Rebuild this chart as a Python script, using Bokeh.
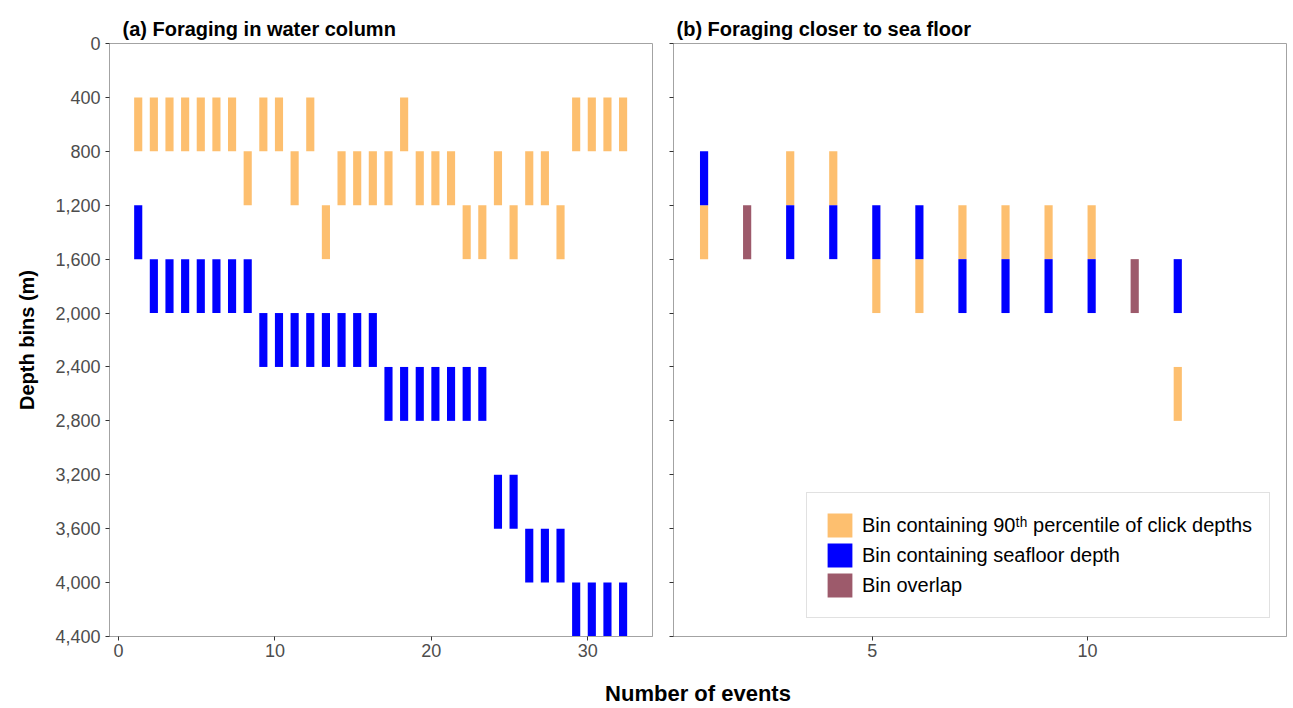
from bokeh.plotting import figure
from bokeh.layouts import column, row
from bokeh.models import (Range1d, FixedTicker, NumeralTickFormatter, Legend,
                          LegendItem, ColumnDataSource, CustomLabelingPolicy)
from bokeh.core.properties import value
from bokeh.embed import file_html
from bokeh.resources import INLINE

# ---------------- data ----------------
BIN_SIZE = 400
depth_ticks = [0, 400, 800, 1200, 1600, 2000, 2400, 2800, 3200, 3600, 4000, 4400]

# (a) Foraging in water column : start of each 400 m depth bin
events_a = list(range(1, 33))
pct90_a = [400, 400, 400, 400, 400, 400, 400, 800, 400, 400, 800, 400, 1200, 800, 800, 800,
           800, 400, 800, 800, 800, 1200, 1200, 800, 1200, 800, 800, 1200, 400, 400, 400, 400]
seafloor_a = [1200, 1600, 1600, 1600, 1600, 1600, 1600, 1600, 2000, 2000, 2000, 2000, 2000, 2000, 2000, 2000,
              2400, 2400, 2400, 2400, 2400, 2400, 2400, 3200, 3200, 3600, 3600, 3600, 4000, 4000, 4000, 4000]

# (b) Foraging closer to sea floor
events_b = list(range(1, 13))
pct90_b = [1200, 1200, 800, 800, 1600, 1600, 1200, 1200, 1200, 1200, 1600, 2400]
seafloor_b = [800, 1200, 1200, 1200, 1200, 1200, 1600, 1600, 1600, 1600, 1600, 1600]

legend_labels = ["Bin containing 90\u1d57\u02b0 percentile of click depths",
                 "Bin containing seafloor depth",
                 "Bin overlap"]

# ---------------- style ----------------
FONT = "Liberation Sans"
C_PCT = "#FDBF6F"
C_SEA = "#0000FF"
C_OVL = "#9D5A6B"
FRAME = "#A3A3A3"


def sources(events, pct, sea, width):
    out = {"pct": dict(left=[], right=[], top=[], bottom=[]),
           "sea": dict(left=[], right=[], top=[], bottom=[]),
           "ovl": dict(left=[], right=[], top=[], bottom=[])}
    for e, p, s in zip(events, pct, sea):
        items = [("ovl", p)] if p == s else [("pct", p), ("sea", s)]
        for key, start in items:
            d = out[key]
            d["left"].append(e)
            d["right"].append(e + width)
            d["top"].append(start)
            d["bottom"].append(start + BIN_SIZE)
    return {k: ColumnDataSource(v) for k, v in out.items()}


def style(p):
    p.xgrid.visible = False
    p.ygrid.visible = False
    p.background_fill_color = "white"
    p.border_fill_color = "white"
    p.outline_line_color = FRAME
    p.outline_line_width = 1
    p.axis.axis_line_color = FRAME
    p.axis.major_tick_line_color = "#333333"
    p.axis.major_tick_out = 4
    p.axis.major_tick_in = 0
    p.axis.minor_tick_out = 0
    p.axis.minor_tick_in = 0
    p.axis.major_label_text_font = FONT
    p.axis.major_label_text_font_size = "18px"
    p.axis.major_label_text_color = "#4D4D4D"
    p.xaxis.major_label_standoff = 3
    p.yaxis.ticker = FixedTicker(ticks=depth_ticks)
    p.yaxis.formatter = NumeralTickFormatter(format="0,0")
    p.title.text_font = FONT
    p.title.text_font_size = "20px"
    p.title.text_font_style = "bold"
    p.title.text_color = "black"
    p.title.align = "left"
    p.title.standoff = 8


def draw(p, src):
    r1 = p.quad(left="left", right="right", top="top", bottom="bottom", source=src["pct"],
                fill_color=C_PCT, line_color=None)
    r2 = p.quad(left="left", right="right", top="top", bottom="bottom", source=src["sea"],
                fill_color=C_SEA, line_color=None)
    r3 = p.quad(left="left", right="right", top="top", bottom="bottom", source=src["ovl"],
                fill_color=C_OVL, line_color=None)
    return [r1, r2, r3]


# ---------------- panel (a) ----------------
p1 = figure(width=660, height=666, x_range=Range1d(-0.576, 34.14), y_range=Range1d(4400, 0),
            output_backend="svg", toolbar_location=None, title="(a) Foraging in water column",
            min_border_left=109, min_border_right=8, min_border_top=43, min_border_bottom=30)
style(p1)
p1.title.offset = 13
p1.xaxis.ticker = FixedTicker(ticks=[0, 10, 20, 30])
p1.yaxis.axis_label = "Depth bins (m)"
p1.yaxis.axis_label_text_font = FONT
p1.yaxis.axis_label_text_font_size = "20px"
p1.yaxis.axis_label_text_font_style = "bold"
p1.yaxis.axis_label_text_color = "black"
p1.yaxis.axis_label_standoff = 14
draw(p1, sources(events_a, pct90_a, seafloor_a, 0.52))

# ---------------- panel (b) ----------------
p2 = figure(width=630, height=666, x_range=Range1d(0.385, 14.62), y_range=Range1d(4400, 0),
            output_backend="svg", toolbar_location=None, title="(b) Foraging closer to sea floor",
            min_border_left=13, min_border_right=4, min_border_top=43, min_border_bottom=30)
style(p2)
p2.title.offset = 3
p2.xaxis.ticker = FixedTicker(ticks=[5, 10])
p2.yaxis.major_label_text_font_size = "1px"
p2.yaxis.major_label_standoff = 0
p2.yaxis.major_label_policy = CustomLabelingPolicy(code="return []")
rend_b = draw(p2, sources(events_b, pct90_b, seafloor_b, 0.19))

legend = Legend(items=[LegendItem(label=lab, renderers=[r]) for lab, r in zip(legend_labels, rend_b)],
                location=(133, 18), margin=0, padding=17, spacing=0,
                glyph_width=31, glyph_height=30, label_height=30, label_standoff=7,
                label_text_font=FONT, label_text_font_size="20px", label_text_color="black",
                border_line_color="#C4C4C4", border_line_width=1.5,
                background_fill_color="white", background_fill_alpha=1.0)
p2.add_layout(legend)

# ---------------- shared x title ----------------
p3 = figure(width=1290, height=42, x_range=Range1d(0, 1), y_range=Range1d(0, 1),
            output_backend="svg", toolbar_location=None, x_axis_type=None, y_axis_type=None,
            min_border_left=109, min_border_right=4, min_border_top=0, min_border_bottom=0)
p3.xgrid.visible = False
p3.ygrid.visible = False
p3.outline_line_color = None
p3.background_fill_color = "white"
p3.border_fill_color = "white"
p3.text(x=[0.5], y=[0.357], text=["Number of events"], text_align="center",
        text_baseline="middle", text_font=value(FONT), text_font_size="22px",
        text_font_style="bold", text_color="black")

layout = column(row(p1, p2), p3)
open("out.html", "w").write(file_html(layout, INLINE, title="Depth bins"))
